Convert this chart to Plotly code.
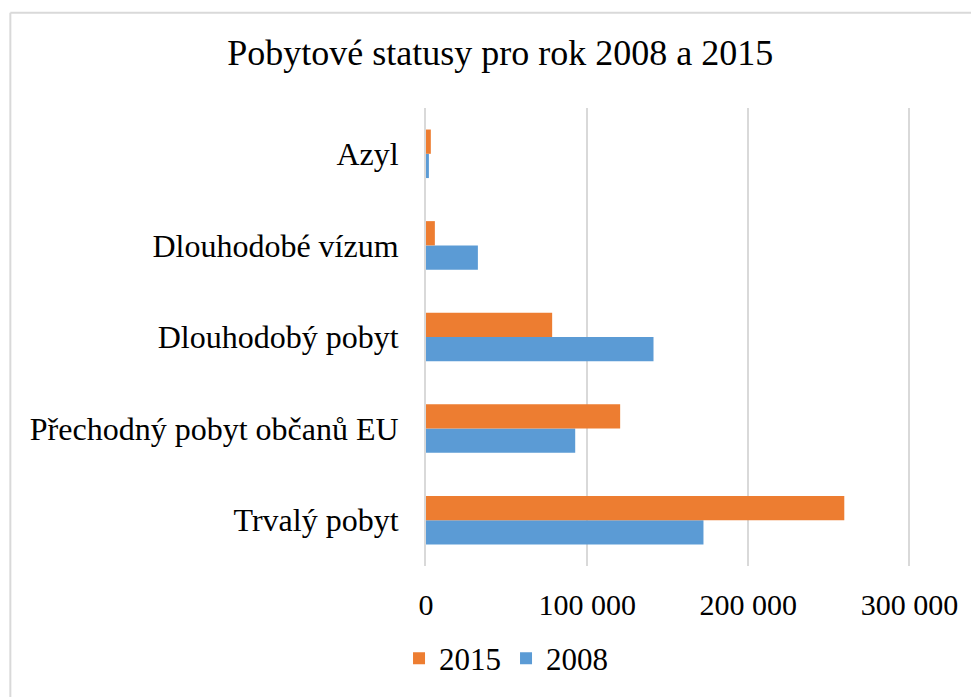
import plotly.graph_objects as go

categories = ["Trvalý pobyt", "Přechodný pobyt občanů EU", "Dlouhodobý pobyt",
              "Dlouhodobé vízum", "Azyl"]
vals_2008 = [172200, 92600, 141200, 32200, 1800]
vals_2015 = [259600, 120500, 78300, 5500, 3000]
tick_vals = [0, 100000, 200000, 300000]
tick_text = ["0", "100 000", "200 000", "300 000"]

ORANGE = "#ED7D31"
BLUE = "#5B9BD5"
GRID = "#d9d9d9"
FONT = "Liberation Serif"

fig = go.Figure()
# 2008 first so that it sits at the bottom of each group
fig.add_trace(go.Bar(y=categories, x=vals_2008, name="2008", orientation="h",
                     marker=dict(color=BLUE, line=dict(width=0)), legendrank=2))
fig.add_trace(go.Bar(y=categories, x=vals_2015, name="2015", orientation="h",
                     marker=dict(color=ORANGE, line=dict(width=0)), legendrank=1))

# page body has an 8px margin, so the figure is a bit smaller than the window
fig.update_layout(
    width=971, height=689,
    margin=dict(l=418, r=68, t=100, b=128),
    paper_bgcolor="white", plot_bgcolor="white",
    font=dict(family=FONT, size=30, color="black"),
    barmode="group", bargap=0.47, bargroupgap=0,
    title=dict(text="Pobytové statusy pro rok 2008 a 2015",
               x=0.507, xanchor="center", y=0.936, yanchor="middle",
               font=dict(family=FONT, size=36, color="black")),
    legend=dict(orientation="h", x=0.165, xanchor="center", y=-0.202, yanchor="middle",
                font=dict(family=FONT, size=31), itemwidth=30),
    showlegend=True,
)
# range slightly past 300 000 so the last gridline is drawn
fig.update_xaxes(range=[0, 301000], tickvals=tick_vals, ticktext=tick_text,
                 showgrid=True, gridcolor=GRID, gridwidth=1.5, zeroline=False,
                 showline=False, ticks="outside", ticklen=12, tickcolor="white",
                 tickfont=dict(family=FONT, size=30))
fig.update_yaxes(showgrid=False, zeroline=False, showline=True, linecolor=GRID,
                 linewidth=2, ticks="outside", ticklen=19, tickcolor="white",
                 tickfont=dict(family=FONT, size=32))

# chart border (partly cut by the window, like the reference)
fig.add_shape(type="line", xref="paper", yref="paper",
              x0=-0.857, x1=1.2, y0=1.208, y1=1.208,
              line=dict(color=GRID, width=2))
fig.add_shape(type="line", xref="paper", yref="paper",
              x0=-0.857, x1=-0.857, y0=1.208, y1=-0.4,
              line=dict(color=GRID, width=2))

fig.write_html("out.html")
